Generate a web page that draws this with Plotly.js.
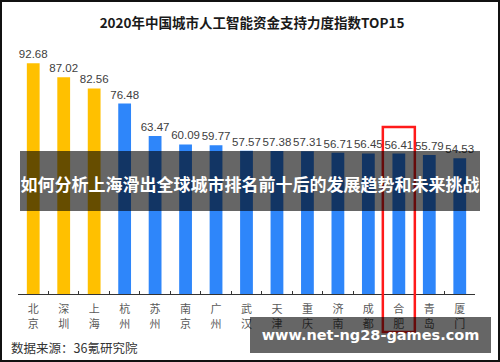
<!DOCTYPE html>
<html><head><meta charset="utf-8">
<script src="https://cdn.plot.ly/plotly-3.0.1.min.js"></script>
<style>
html,body{margin:0;padding:0;background:#fff;}
#wrap{position:relative;width:500px;height:362px;overflow:hidden;}
#chart{position:absolute;left:0;top:0;width:500px;height:362px;}
#banner{position:absolute;left:20px;top:151px;width:460px;height:60px;background:rgba(0,0,0,0.6);color:#fff;
 font-family:"Noto Sans CJK SC",sans-serif;font-weight:bold;font-size:17px;line-height:60px;text-align:center;white-space:nowrap;padding-top:3px;box-sizing:border-box;}
#wm{position:absolute;left:250px;top:317px;width:241px;height:36px;background:rgba(0,0,0,0.6);color:#fff;
 font-family:"DejaVu Sans",sans-serif;font-weight:bold;font-size:14.5px;line-height:36px;text-align:center;white-space:nowrap;}
#border{position:absolute;left:0;top:0;width:500px;height:362px;box-sizing:border-box;border:2px solid #111;pointer-events:none;}
</style></head>
<body>
<div id="wrap">
<div id="chart"></div>
<div id="banner">如何分析上海滑出全球城市排名前十后的发展趋势和未来挑战</div>
<div id="wm">www.net-ng28-games.com</div>
<div id="border"></div>
</div>
<script>
const cities = ["北京","深圳","上海","杭州","苏州","南京","广州","武汉","天津","重庆","济南","成都","合肥","青岛","厦门"];
const values = [92.68,87.02,82.56,76.48,63.47,60.09,59.77,57.57,57.38,57.31,56.71,56.45,56.41,55.79,54.53];
const topThree = ["北京","深圳","上海"];
const highlight = "合肥";
const titleText = "2020年中国城市人工智能资金支持力度指数TOP15";
const sourceText = "数据来源：36氪研究院";

const yellow = "#FFC000", blue = "#2E86FA";
const tickText = cities.map(c => c[0] + "<br>" + c[1]);
const L = 18, R = 25, T = 45, B = 68, W = 500, H = 362;
const plotW = W - L - R, plotH = H - T - B;

const hi = cities.indexOf(highlight);
const cx = (hi + 0.5) / cities.length;
const halfW = 16 / plotW;

const trace = {
  type: "bar",
  x: cities,
  y: values,
  marker: {color: cities.map(c => topThree.includes(c) ? yellow : blue)},
  width: 0.42,
  text: values.map(v => v.toFixed(2)),
  textposition: "outside",
  constraintext: "none",
  cliponaxis: false,
  textfont: {family: "Liberation Sans, Arial, sans-serif", size: 11.5, color: "#404040"},
  hoverinfo: "none"
};

const layout = {
  width: W, height: H,
  margin: {l: L, r: R, t: T, b: B, pad: 0},
  paper_bgcolor: "#fff", plot_bgcolor: "#fff",
  showlegend: false,
  title: {text: "<b>" + titleText + "</b>", x: 0.504, xanchor: "center", xref: "container",
          y: 1 - 23 / H, yanchor: "middle", yref: "container",
          font: {family: "Noto Sans CJK SC, sans-serif", size: 13.5, color: "#1a1a1a"}},
  xaxis: {
    type: "category",
    tickmode: "array", tickvals: cities, ticktext: tickText,
    tickfont: {family: "Noto Sans CJK SC, sans-serif", size: 11, color: "#595959"},
    showline: true, linecolor: "#333", linewidth: 1,
    ticks: "inside", tickson: "boundaries", ticklen: 3, tickcolor: "#333",
    showgrid: false, zeroline: false, ticklabelstandoff: 5
  },
  yaxis: {range: [0, 100], visible: false, showgrid: false, zeroline: false},
  shapes: [{
    type: "rect", xref: "paper", yref: "paper",
    x0: cx - halfW, x1: cx + halfW,
    y0: (294 - 332) / plotH, y1: (294 - 127) / plotH,
    line: {color: "#FF1A1A", width: 2.5}, fillcolor: "rgba(0,0,0,0)", layer: "above"
  }],
  annotations: [{
    text: sourceText, xref: "paper", yref: "paper",
    x: -9 / plotW, xanchor: "left",
    y: (294 - 347) / plotH, yanchor: "middle",
    showarrow: false,
    font: {family: "Noto Sans CJK SC, sans-serif", size: 12.5, color: "#333"}
  }]
};

Plotly.newPlot("chart", [trace], layout, {staticPlot: true, displayModeBar: false});
</script>
</body></html>
